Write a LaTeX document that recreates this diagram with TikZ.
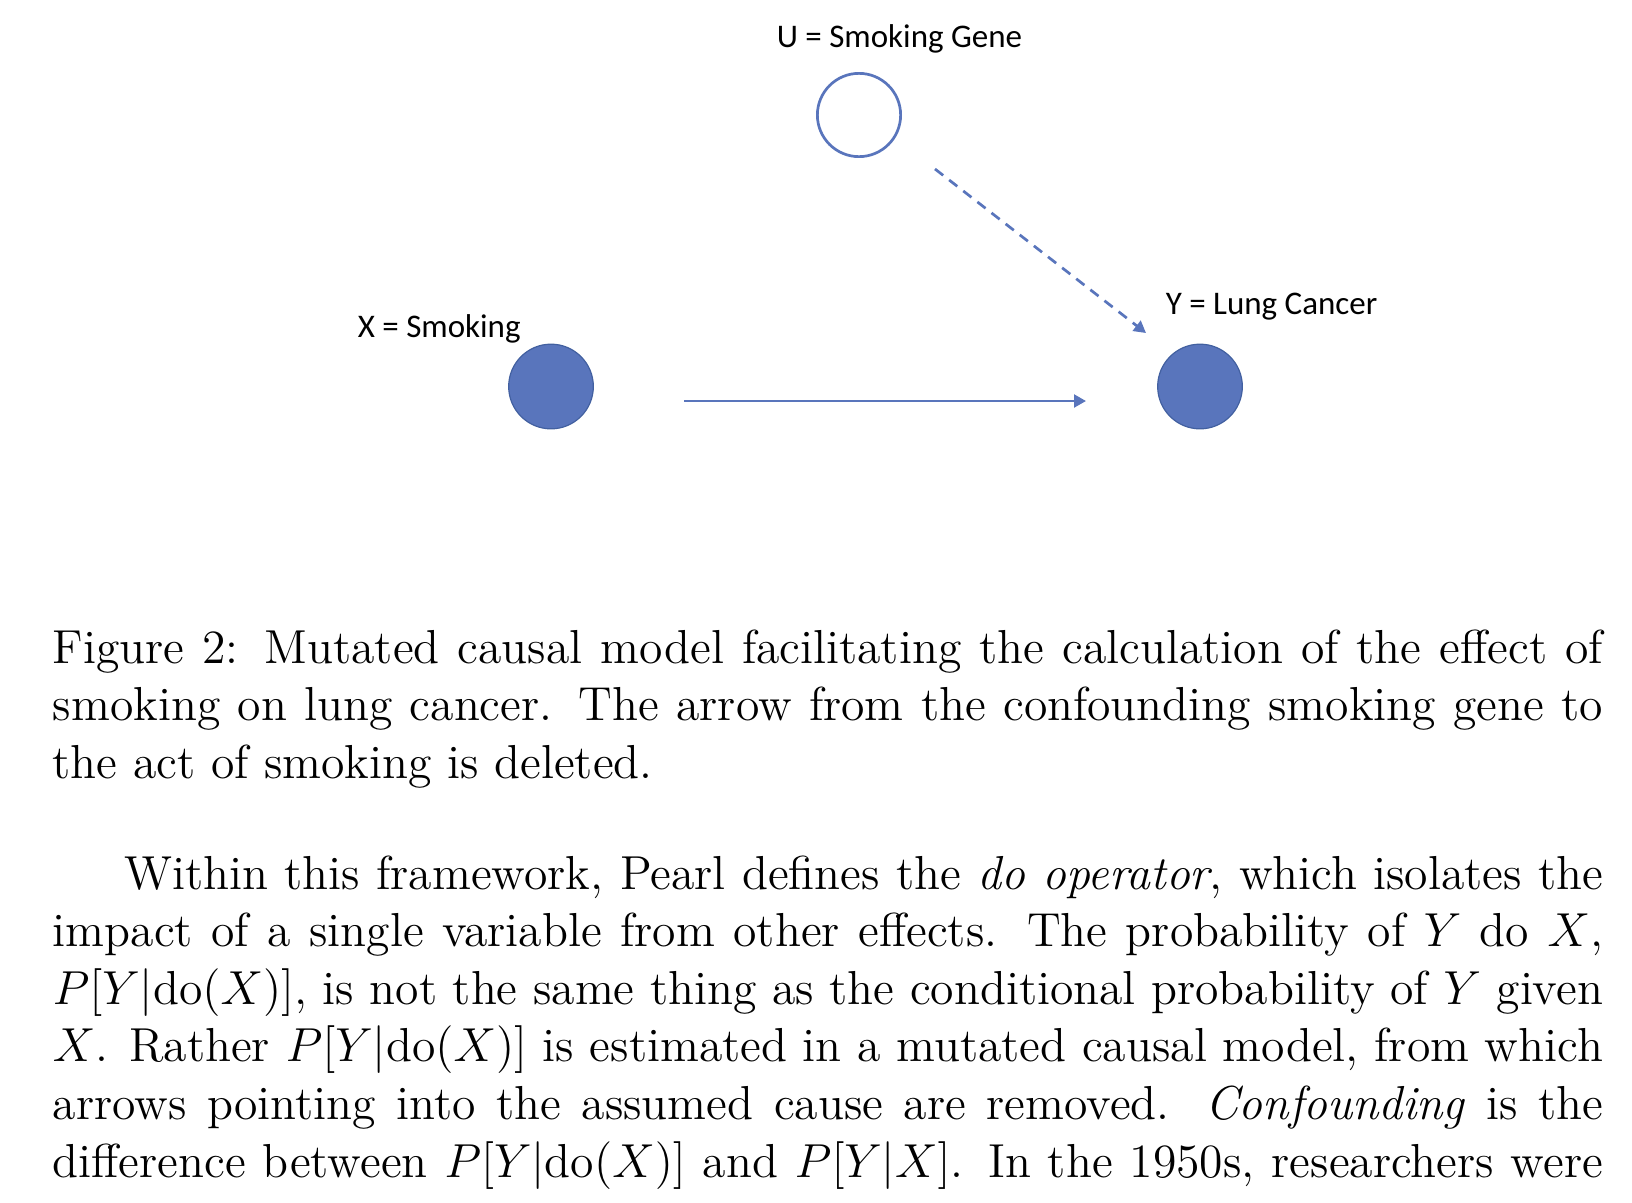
\documentclass[tikz,border=0pt]{standalone}
\usepackage{fontspec}
\newfontfamily\calib{Carlito}
\usetikzlibrary{arrows.meta}
\definecolor{nodeblue}{RGB}{89,117,188}
\definecolor{nodeedge}{RGB}{66,96,160}
\begin{document}
\begin{tikzpicture}[x=0.25157pt,y=-0.25157pt,
  lbl/.style={inner sep=0pt, anchor=base west, font=\calib\fontsize{8.3}{10}\selectfont},
  hidden/.style={circle, draw=nodeblue, line width=0.68pt, fill=white, minimum size=20.95pt, inner sep=0pt},
  observed/.style={circle, draw=nodeedge, line width=0.3pt, fill=nodeblue, minimum size=21.3pt, inner sep=0pt},
  edge/.style={draw=nodeblue, line width=0.68pt, -{Triangle[length=3pt,width=3.2pt]}},
  cut/.style={edge, dash pattern=on 2.6pt off 1.9pt},
  body/.style={inner sep=0pt, anchor=base west}]
\useasboundingbox (0,0) rectangle (1632,1202);
% nodes
\node[hidden] (U) at (859,115) {};
\node[observed] (X) at (551,386.5) {};
\node[observed] (Y) at (1200,386.5) {};
% labels
\node[lbl] (Ulbl) at (776,47) {U = Smoking Gene};
\node[lbl] (Xlbl) at (357,337) {X = Smoking};
\node[lbl] (Ylbl) at (1165,314) {Y = Lung Cancer};
% connector ends
\coordinate (xs) at (684,401);
\coordinate (ye) at (1086,401);
\coordinate (us) at (935,169);
\coordinate (yu) at (1146,333);
\draw[edge] (xs) -- (ye);
\draw[cut] (us) -- (yu);
% text
\node[body] (caption) at (52,663) {\parbox[t]{390pt}{\fontsize{12}{14.5}\selectfont Figure 2: Mutated causal model facilitating the calculation of the effect of smoking on lung cancer. The arrow from the confounding smoking gene to the act of smoking is deleted.}};
\node[body] (para) at (52,889) {\parbox[t]{390pt}{\fontsize{12}{14.5}\selectfont\parindent=18pt\parfillskip=0pt\indent Within this framework, Pearl defines the \emph{do operator}, which isolates the impact of a single variable from other effects. The probability of $Y$ do $X$, $P[Y|\mathrm{do}(X)]$, is not the same thing as the conditional probability of $Y$ given $X$. Rather $P[Y|\mathrm{do}(X)]$ is estimated in a mutated causal model, from which arrows pointing into the assumed cause are removed. \emph{Confounding} is the difference between $P[Y|\mathrm{do}(X)]$ and $P[Y|X]$. In the 1950s, researchers were}};
\end{tikzpicture}
\end{document}
